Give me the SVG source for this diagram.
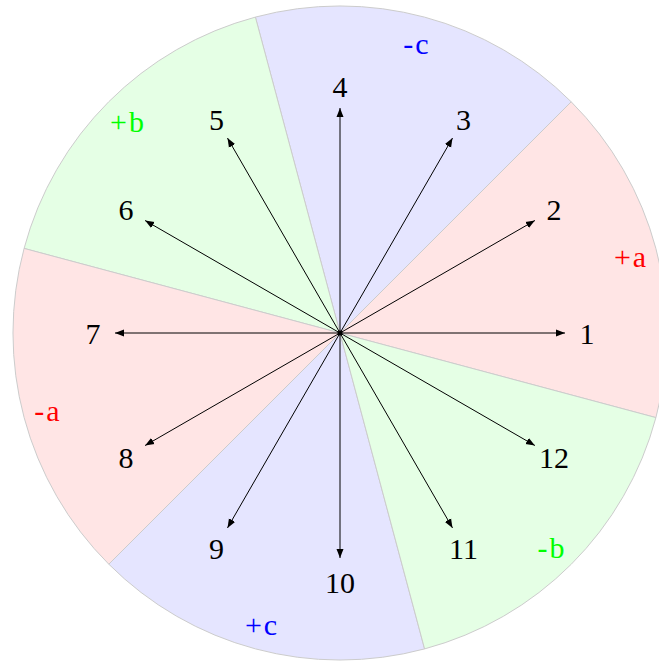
<svg xmlns="http://www.w3.org/2000/svg" width="659" height="663" viewBox="0 0 659 663">
<style>
.sec{stroke:#cccccc;stroke-width:1}
.red{fill:#ffe5e5}.blue{fill:#e5e5ff}.green{fill:#e5ffe5}
.lbl{font-family:"Liberation Serif","DejaVu Serif",serif;font-size:30px;text-anchor:middle;dominant-baseline:central;fill:#000}
.slbl{font-family:"Liberation Serif","DejaVu Serif",serif;font-size:30px;letter-spacing:2px;text-anchor:middle;dominant-baseline:central}
.arr{stroke:#000;stroke-width:1;fill:none;marker-end:url(#ah)}
</style>
<defs>
<marker id="ah" markerUnits="userSpaceOnUse" markerWidth="10" markerHeight="8" refX="9" refY="4" orient="auto">
<path d="M0,0.5 L9,4 L0,7.5 Z" fill="#000"/>
</marker>
</defs>
<g id="sectors">
<path class="sec red" d="M340,333 L655.9,417.6 A327,327 0 0 0 571.2,101.8 Z"/>
<path class="sec blue" d="M340,333 L571.2,101.8 A327,327 0 0 0 255.4,17.1 Z"/>
<path class="sec green" d="M340,333 L255.4,17.1 A327,327 0 0 0 24.1,248.4 Z"/>
<path class="sec red" d="M340,333 L24.1,248.4 A327,327 0 0 0 108.8,564.2 Z"/>
<path class="sec blue" d="M340,333 L108.8,564.2 A327,327 0 0 0 424.6,648.9 Z"/>
<path class="sec green" d="M340,333 L424.6,648.9 A327,327 0 0 0 655.9,417.6 Z"/>
</g>
<g id="sector-labels">
<text class="slbl" x="631" y="256" fill="#ff0000">+a</text>
<text class="slbl" x="417" y="43" fill="#0000ff">-c</text>
<text class="slbl" x="128" y="121" fill="#00ff00">+b</text>
<text class="slbl" x="48" y="410" fill="#ff0000">-a</text>
<text class="slbl" x="262" y="624" fill="#0000ff">+c</text>
<text class="slbl" x="552" y="547" fill="#00ff00">-b</text>
</g>
<g id="connectors">
<line class="arr" x1="340" y1="333" x2="565" y2="333"/>
<line class="arr" x1="340" y1="333" x2="534.9" y2="220.5"/>
<line class="arr" x1="340" y1="333" x2="452.5" y2="138.1"/>
<line class="arr" x1="340" y1="333" x2="340" y2="108"/>
<line class="arr" x1="340" y1="333" x2="227.5" y2="138.1"/>
<line class="arr" x1="340" y1="333" x2="145.1" y2="220.5"/>
<line class="arr" x1="340" y1="333" x2="115" y2="333"/>
<line class="arr" x1="340" y1="333" x2="145.1" y2="445.5"/>
<line class="arr" x1="340" y1="333" x2="227.5" y2="527.9"/>
<line class="arr" x1="340" y1="333" x2="340" y2="558"/>
<line class="arr" x1="340" y1="333" x2="452.5" y2="527.9"/>
<line class="arr" x1="340" y1="333" x2="534.9" y2="445.5"/>
</g>
<g id="center"><circle cx="340" cy="333" r="2.5" fill="#000"/></g>
<g id="n1"><text class="lbl" x="587" y="333">1</text></g>
<g id="n2"><text class="lbl" x="554" y="209.5">2</text></g>
<g id="n3"><text class="lbl" x="463.5" y="119">3</text></g>
<g id="n4"><text class="lbl" x="340" y="86">4</text></g>
<g id="n5"><text class="lbl" x="216.5" y="119">5</text></g>
<g id="n6"><text class="lbl" x="126" y="209.5">6</text></g>
<g id="n7"><text class="lbl" x="93" y="333">7</text></g>
<g id="n8"><text class="lbl" x="126" y="457">8</text></g>
<g id="n9"><text class="lbl" x="216.5" y="548">9</text></g>
<g id="n10"><text class="lbl" x="340" y="582">10</text></g>
<g id="n11"><text class="lbl" x="463.5" y="548">11</text></g>
<g id="n12"><text class="lbl" x="554" y="457">12</text></g>
</svg>
